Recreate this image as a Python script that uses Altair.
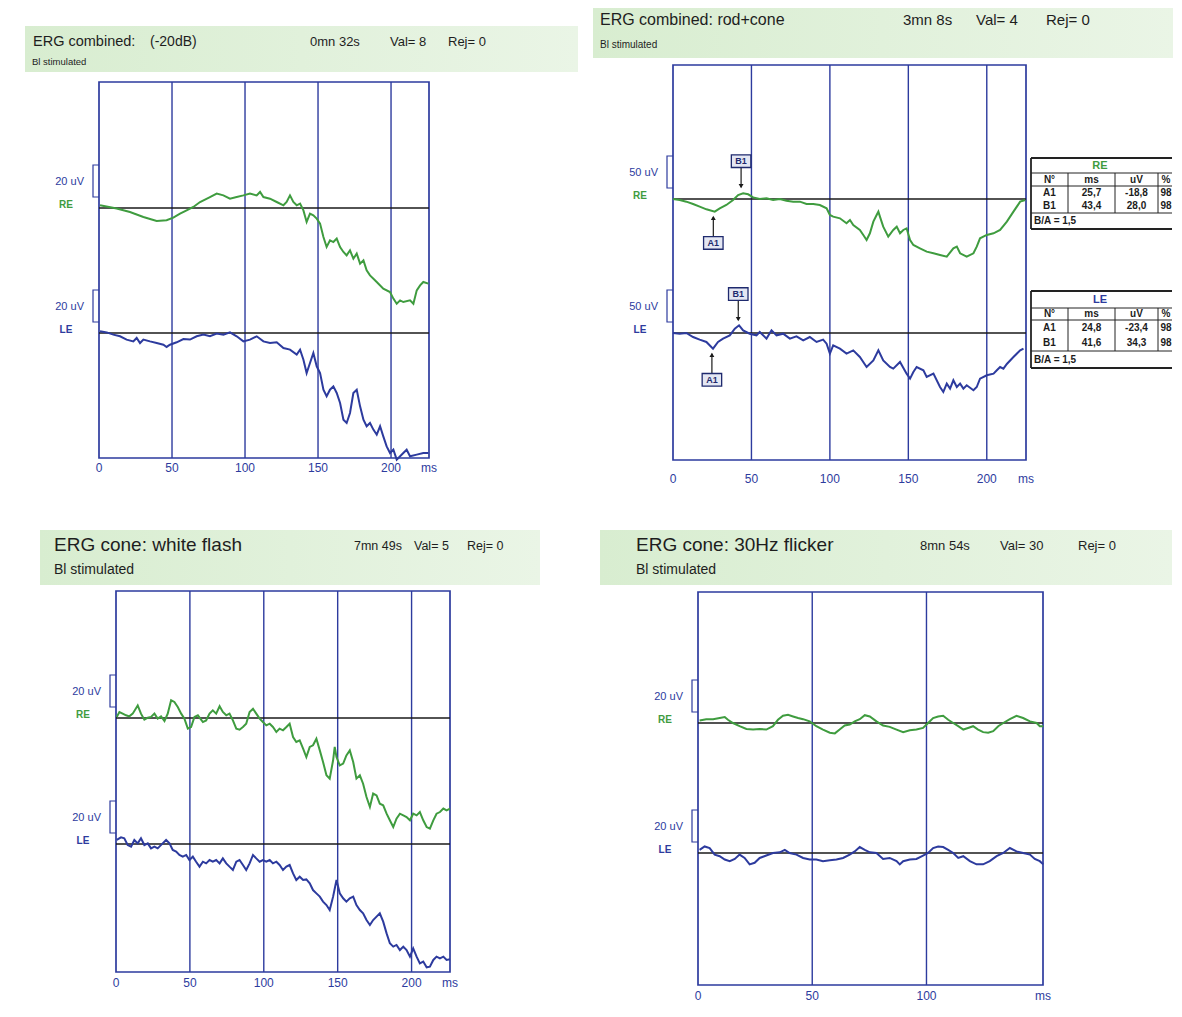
import altair as alt
import pandas as pd

# ---------------- data (ms, uV) ----------------
p1_header = ["ERG combined:", "(-20dB)", "0mn 32s", "Val= 8", "Rej= 0", "Bl stimulated"]
p1_re = [(0.7,1.8),(12.1,-0.4),(21.2,-2.7),(30.4,-6.0),(39.5,-8.7),(46.3,-8.2),(50.9,-6.4),(55.5,-3.8),(60.0,-1.6),(64.6,0.7),
         (69.2,4.0),(76.0,7.3),(80.6,9.6),(85.2,8.4),(89.7,6.2),(94.3,7.3),(98.9,8.4),(103.4,9.6),(108.0,8.4),(110.3,10.7),
         (112.6,7.3),(117.1,6.2),(121.7,4.0),(126.3,1.8),(128.5,4.0),(130.8,8.4),(133.1,4.0),(135.4,1.8),(137.7,2.9),(140.0,-1.6),
         (142.2,-9.3),(144.5,-3.8),(146.8,-4.9),(149.1,-7.1),(151.4,-10.4),(153.7,-19.3),(155.9,-26.0),(158.2,-21.6),(160.5,-22.7),
         (162.8,-20.4),(165.1,-26.0),(167.4,-29.3),(169.6,-31.6),(171.9,-28.2),(174.2,-33.8),(176.5,-30.4),(178.8,-37.1),(181.1,-34.9),
         (183.3,-41.6),(185.6,-44.9),(190.2,-49.3),(194.7,-53.8),(199.3,-56.0),(201.6,-60.4),(203.9,-63.8),(206.2,-61.6),(208.4,-62.7),
         (213.0,-61.6),(215.3,-63.8),(217.6,-54.9),(219.9,-51.6),(222.1,-49.3),(225.6,-50.4)]
p1_le = [(0.7,1.1),(5.3,0.4),(9.8,-1.1),(14.4,-2.2),(18.9,-4.4),(23.5,-5.6),(25.8,-3.3),(28.1,-6.7),(30.4,-4.4),(34.9,-5.6),
         (39.5,-6.7),(44.1,-7.8),(46.3,-9.3),(48.6,-7.8),(53.2,-6.2),(57.8,-4.0),(62.3,-4.4),(66.9,-2.2),(71.5,-1.1),(76.0,-2.2),
         (80.6,-0.4),(85.2,-1.1),(89.7,0.4),(94.3,-2.2),(98.9,-5.6),(103.4,-4.4),(108.0,-2.2),(112.6,-5.6),(117.1,-6.7),(121.7,-6.2),
         (126.3,-10.0),(130.8,-11.1),(135.4,-14.4),(137.7,-11.1),(140.0,-17.8),(142.2,-26.7),(144.5,-20.0),(146.8,-13.3),(149.1,-22.2),
         (151.4,-26.7),(153.7,-37.8),(155.9,-42.2),(158.2,-37.8),(160.5,-35.6),(162.8,-40.0),(165.1,-46.7),(167.4,-57.8),(169.6,-60.0),
         (171.9,-53.3),(174.2,-40.0),(176.5,-37.8),(178.8,-48.9),(181.1,-57.8),(183.3,-62.2),(185.6,-60.0),(187.9,-64.4),(190.2,-67.8),
         (192.5,-62.2),(194.7,-68.9),(197.0,-75.6),(199.3,-80.0),(201.6,-77.8),(203.9,-84.4),(206.2,-82.2),(208.4,-80.0),(210.7,-77.8),
         (213.0,-82.2),(217.6,-81.1),(222.1,-80.0),(225.6,-80.0)]

p2_header = ["ERG combined: rod+cone", "3mn 8s", "Val= 4", "Rej= 0", "Bl stimulated"]
p2_re = [(0,0),(4.3,-1.6),(8.5,-4.2),(12.8,-7.9),(17.0,-12.1),(21.3,-16.3),(26.6,-20.0),(29.8,-14.7),(34.0,-9.5),(38.3,-1.6),
         (41.5,6.3),(44.7,8.9),(47.9,7.4),(51.1,2.6),(55.3,0),(59.6,1.1),(63.8,-1.6),(68.1,0),(72.3,-2.6),(76.6,-4.2),(80.9,-4.2),
         (85.1,-7.9),(89.4,-7.9),(93.6,-9.5),(97.9,-14.7),(100.0,-25.3),(102.1,-27.9),(106.4,-30.5),(110.6,-38.4),(112.8,-33.2),
         (114.9,-41.1),(119.1,-48.9),(121.3,-56.8),(123.4,-64.7),(125.5,-54.2),(127.7,-35.8),(129.8,-25.3),(130.9,-20.0),(131.9,-27.9),
         (134.0,-43.7),(137.2,-59.5),(140.4,-48.9),(142.6,-43.7),(144.7,-54.2),(146.8,-48.9),(148.9,-46.3),(151.1,-64.7),(153.2,-72.6),
         (157.4,-77.9),(161.7,-83.2),(166.0,-85.8),(170.2,-88.4),(174.5,-91.1),(178.7,-77.9),(180.9,-75.3),(183.0,-85.8),(187.2,-91.1),
         (191.5,-85.8),(193.6,-75.3),(195.7,-62.1),(200.0,-56.8),(204.3,-54.2),(208.5,-48.9),(212.8,-35.8),(217.0,-20.0),(221.3,-4.2),
         (224.5,-1.6)]
p2_le = [(0,0),(4.3,-1.1),(8.5,0),(12.8,-6.3),(17.0,-10.5),(21.3,-14.2),(25.5,-24.7),(28.7,-14.2),(31.9,-8.9),(36.2,-3.7),
         (39.4,6.8),(42.1,12.1),(44.7,4.2),(48.9,-1.1),(53.2,-3.7),(55.3,1.6),(59.6,-8.9),(62.8,4.2),(66.0,-3.7),(70.2,-1.1),
         (74.5,-8.9),(78.7,-5.3),(83.0,-11.6),(87.2,-6.3),(91.5,-14.2),(95.7,-10.5),(97.9,-16.8),(100.0,-32.6),(102.1,-19.5),
         (106.4,-24.7),(110.6,-32.6),(114.9,-27.4),(119.1,-37.9),(123.4,-53.7),(127.7,-43.2),(130.9,-27.4),(134.0,-43.2),(138.3,-53.7),
         (140.4,-56.3),(144.7,-45.8),(148.9,-64.2),(151.1,-72.1),(153.2,-61.6),(155.3,-53.7),(159.6,-58.9),(161.7,-69.5),(166.0,-64.2),
         (170.2,-85.3),(172.3,-93.2),(174.5,-80.0),(176.6,-87.9),(178.7,-74.7),(180.9,-85.3),(183.0,-80.0),(185.1,-87.9),(187.2,-82.6),
         (191.5,-90.5),(193.6,-85.3),(195.7,-72.1),(200.0,-66.8),(204.3,-64.2),(206.4,-58.9),(208.5,-53.7),(210.6,-56.3),(212.8,-48.9),
         (217.0,-37.9),(221.3,-27.4),(223.4,-24.7)]
# measurement tables of panel 2 (A1, B1)
p2_re_ms = [25.7, 43.4]
p2_re_uv = [-18.8, 28.0]
p2_re_pct = [98, 98]
p2_re_ratio = "1,5"
p2_le_ms = [24.8, 41.6]
p2_le_uv = [-23.4, 34.3]
p2_le_pct = [98, 98]
p2_le_ratio = "1,5"
table_cols = ["N°", "ms", "uV", "%"]
peak_names = ["A1", "B1"]

p3_header = ["ERG cone: white flash", "7mn 49s", "Val= 5", "Rej= 0", "Bl stimulated"]
p3_re = [(0.5,0.7),(2.3,4.0),(4.5,2.9),(6.8,1.8),(9.0,1.1),(11.3,2.9),(14.7,8.4),(16.9,2.9),(19.2,-1.1),(21.5,0.2),(23.7,0.7),
         (26.0,2.9),(28.2,-0.4),(30.5,1.1),(32.8,-2.0),(35.0,2.9),(37.3,11.8),(39.5,10.7),(41.8,7.3),(44.1,2.9),(46.3,-0.4),(48.6,-7.1),
         (50.8,-6.0),(53.1,0.7),(55.4,1.8),(58.8,-2.7),(61.0,-1.6),(63.3,2.9),(65.5,5.1),(67.8,2.9),(70.1,7.8),(72.3,4.0),(74.6,1.8),
         (76.8,2.9),(79.1,-1.6),(81.4,-7.1),(83.6,-7.8),(85.9,-6.0),(88.1,-3.8),(90.4,4.0),(92.7,6.2),(94.9,2.9),(97.2,-0.4),(99.4,-2.7),
         (101.7,-4.9),(104.0,-3.8),(106.2,-6.0),(108.5,-9.3),(110.7,-7.1),(113.0,-8.2),(115.3,-6.0),(117.5,-3.8),(119.8,-12.7),(122.0,-16.0),
         (124.3,-14.9),(126.6,-20.4),(128.8,-26.0),(131.1,-19.3),(133.3,-18.2),(135.6,-13.8),(137.9,-21.6),(140.1,-29.3),(142.4,-38.2),
         (144.6,-40.4),(146.9,-28.2),(148.0,-19.3),(149.2,-26.0),(151.4,-31.6),(153.7,-30.4),(155.9,-24.9),(158.2,-21.6),(160.5,-29.3),
         (162.7,-40.4),(165.0,-38.2),(167.2,-43.8),(169.5,-52.7),(171.8,-59.3),(174.0,-50.4),(176.3,-51.6),(178.5,-57.1),(180.8,-58.2),
         (183.1,-63.8),(185.3,-68.2),(187.6,-72.7),(189.8,-67.1),(192.1,-63.8),(194.4,-64.9),(196.6,-66.0),(198.9,-68.2),(201.1,-63.8),
         (203.4,-64.9),(205.6,-62.7),(207.9,-68.2),(210.2,-72.7),(212.4,-73.8),(214.7,-68.2),(216.9,-63.8),(219.2,-62.7),(221.5,-60.4),
         (223.7,-61.6),(226.0,-60.4)]
p3_le = [(0.5,2.7),(3.4,4.4),(5.6,3.8),(7.9,-0.7),(10.2,-1.8),(12.4,2.7),(14.7,0.4),(16.9,3.8),(19.2,-0.7),(21.5,0.4),(23.7,-2.9),
         (26.0,-1.8),(28.2,-2.9),(31.6,0.4),(33.9,2.7),(36.2,0.4),(38.4,-4.0),(40.7,-5.1),(42.9,-7.3),(45.2,-8.4),(47.5,-7.3),(49.7,-10.7),
         (52.0,-8.4),(54.2,-11.8),(56.5,-15.1),(58.8,-11.8),(61.0,-12.9),(63.3,-10.7),(65.5,-11.8),(67.8,-10.7),(70.1,-12.9),(72.3,-9.6),
         (74.6,-12.9),(76.8,-15.1),(79.1,-17.3),(81.4,-11.8),(83.6,-10.7),(85.9,-14.0),(88.1,-17.3),(90.4,-12.9),(92.7,-7.3),(94.9,-9.6),
         (97.2,-11.8),(99.4,-10.7),(101.7,-11.8),(104.0,-10.7),(106.2,-12.9),(108.5,-11.8),(110.7,-14.0),(113.0,-17.3),(115.3,-15.1),
         (117.5,-14.0),(119.8,-19.6),(122.0,-24.0),(124.3,-21.8),(126.6,-24.0),(128.8,-23.6),(131.1,-26.2),(133.3,-30.7),(135.6,-32.9),
         (137.9,-35.1),(140.1,-38.4),(142.4,-40.7),(144.6,-44.0),(146.9,-35.1),(149.2,-24.0),(151.4,-32.9),(153.7,-36.2),(155.9,-38.4),
         (158.2,-36.2),(160.5,-35.1),(162.7,-40.7),(165.0,-44.0),(167.2,-46.2),(169.5,-50.7),(171.8,-54.0),(174.0,-50.7),(176.3,-48.4),
         (178.5,-46.2),(180.8,-51.8),(183.1,-59.6),(185.3,-66.2),(187.6,-68.4),(189.8,-67.3),(192.1,-70.7),(194.4,-68.4),(196.6,-70.7),
         (198.9,-75.1),(201.1,-69.6),(203.4,-75.1),(205.6,-79.6),(207.9,-78.4),(210.2,-82.2),(212.4,-81.8),(214.7,-77.3),(216.9,-75.1),
         (219.2,-76.2),(221.5,-75.1),(223.7,-77.3),(226.0,-76.9)]

p4_header = ["ERG cone: 30Hz flicker", "8mn 54s", "Val= 30", "Rej= 0", "Bl stimulated"]
p4_re = [(0.7,1.6),(3.6,2.4),(6.6,2.4),(9.5,3.1),(11.7,3.7),(13.1,2.0),(15.3,0),(18.2,-2.0),(21.2,-3.7),(24.1,-4.1),(27.0,-3.7),
         (29.9,-4.1),(32.8,-2.0),(35.0,2.0),(37.2,4.5),(39.4,5.1),(41.6,4.1),(43.8,3.1),(46.0,2.4),(48.9,1.0),(51.8,-2.0),(54.7,-4.1),
         (57.7,-6.1),(59.9,-6.5),(62.0,-4.1),(64.2,-1.6),(66.4,-1.0),(68.6,1.0),(70.8,2.4),(73.0,4.9),(75.2,4.1),(78.1,1.0),(81.0,-1.6),
         (83.9,-2.4),(86.9,-4.1),(89.8,-5.7),(92.7,-4.5),(95.6,-4.1),(98.5,-3.1),(100.7,0),(102.9,3.1),(105.1,4.1),(107.3,4.5),(109.5,2.0),
         (111.7,0),(113.9,-2.0),(116.1,-4.1),(118.2,-3.1),(120.4,-2.0),(122.6,-4.1),(124.8,-5.7),(127.0,-6.1),(129.2,-5.1),(131.4,-2.0),
         (133.6,0),(136.5,2.4),(139.4,4.5),(142.3,3.1),(145.3,1.0),(148.2,0),(149.6,-2.0),(151.1,-2.0)]
p4_le = [(0.7,2.0),(2.9,4.1),(5.1,3.1),(7.3,-1.0),(9.5,-2.0),(11.7,-4.1),(13.9,-5.1),(16.1,-3.7),(18.2,-1.0),(20.4,-3.1),(22.6,-7.1),
         (24.8,-6.1),(27.0,-3.1),(29.9,-1.6),(32.8,0),(35.8,0.4),(38.0,2.0),(40.1,0),(43.1,-1.0),(46.0,-3.1),(48.9,-4.1),(51.8,-4.1),
         (54.7,-5.1),(57.7,-4.5),(60.6,-4.1),(63.5,-3.1),(66.4,-1.0),(68.6,1.0),(70.8,3.7),(73.0,2.0),(75.2,0.4),(78.1,0),(81.0,-3.7),
         (83.9,-3.1),(86.9,-5.1),(88.3,-7.1),(89.8,-5.1),(92.7,-4.1),(95.6,-3.7),(98.5,-1.6),(100.7,0),(102.9,3.1),(105.1,4.1),(107.3,3.7),
         (109.5,2.0),(111.7,0),(113.9,-3.1),(116.1,-2.0),(119.0,-5.1),(121.9,-7.1),(124.8,-7.1),(127.7,-5.1),(130.7,-2.0),(133.6,0),
         (136.5,3.1),(139.4,1.0),(142.3,0),(145.3,-1.0),(147.4,-3.7),(149.6,-5.1),(151.1,-7.1)]

ticks_200 = [0, 50, 100, 150, 200]
ticks_100 = [0, 50, 100]

# ---------------- styling / layout ----------------
FONT = "Liberation Sans"
BLUE = "#2d3b9e"
GREEN = "#3f9c3f"
BLACK = "#1a1a1a"
TXT = "#1e1e1e"
W = 583
GRAD = alt.LinearGradient(gradient="linear",
                          stops=[alt.GradientStop(color="#d8edd0", offset=0),
                                 alt.GradientStop(color="#eaf5e6", offset=1)],
                          x1=0, x2=1, y1=0, y2=0)
BOX = "M-1,-0.65L1,-0.65L1,0.65L-1,0.65Z"


def build(cfg, header, re_tr, le_tr, extra=None):
    qx, qy, H = cfg["qx"], cfg["qy"], cfg["H"]
    L, R, T, B = cfg["L"], cfg["R"], cfg["T"], cfg["B"]
    xmax, k, bre, ble = cfg["xmax"], cfg["k"], cfg["re"], cfg["le"]
    pxms = (R - L) / xmax
    fx = lambda p: (p - L) / pxms
    fy = lambda p: (bre - p) / k
    le_off = fy(ble)
    xs = alt.Scale(domain=[fx(qx), fx(qx + W)], nice=False, zero=False)
    ys = alt.Scale(domain=[fy(qy + H), fy(qy)], nice=False, zero=False)
    X = lambda f: alt.X(f, type="quantitative", scale=xs, axis=None)
    Y = lambda f: alt.Y(f, type="quantitative", scale=ys, axis=None)
    layers = []
    # header band
    bx0, bx1, by0, by1 = cfg["band"]
    band = pd.DataFrame({"x": [fx(bx0)], "x2": [fx(bx1)], "y": [fy(by0)], "y2": [fy(by1)]})
    layers.append(alt.Chart(band).mark_rect(fill=GRAD).encode(x=X("x"), x2="x2", y=Y("y"), y2="y2"))
    hd = pd.DataFrame({"x": [fx(p[0]) for p in cfg["hpos"]], "y": [fy(p[1]) for p in cfg["hpos"]],
                       "t": header, "fs": [p[2] for p in cfg["hpos"]]})
    layers.append(alt.Chart(hd).mark_text(align="left", baseline="middle", font=FONT, color=TXT).encode(
        x=X("x"), y=Y("y"), text="t:N", size=alt.Size("fs:Q", scale=None)))
    # frame
    fr = pd.DataFrame({"x": [0], "x2": [xmax], "y": [fy(B)], "y2": [fy(T)]})
    layers.append(alt.Chart(fr).mark_rect(fill="white", stroke=BLUE, strokeWidth=1.7).encode(
        x=X("x"), x2="x2", y=Y("y"), y2="y2"))
    # vertical grid
    gd = pd.DataFrame({"x": cfg["grid"], "y": fy(B), "y2": fy(T)})
    layers.append(alt.Chart(gd).mark_rule(color=BLUE, strokeWidth=1.4).encode(x=X("x"), y=Y("y"), y2="y2"))
    # baselines
    bl = pd.DataFrame({"x": [0, 0], "x2": [xmax, xmax], "y": [0, le_off]})
    layers.append(alt.Chart(bl).mark_rule(color=BLACK, strokeWidth=1.4).encode(x=X("x"), x2="x2", y=Y("y")))
    # traces
    dre = pd.DataFrame(re_tr, columns=["ms", "uv"])
    dle = pd.DataFrame(le_tr, columns=["ms", "uv"])
    dle["uv"] = dle["uv"] + le_off
    layers.append(alt.Chart(dre).mark_line(color=GREEN, strokeWidth=2.0).encode(x=X("ms"), y=Y("uv")))
    layers.append(alt.Chart(dle).mark_line(color=BLUE, strokeWidth=2.0).encode(x=X("ms"), y=Y("uv")))
    # scale brackets
    rows = []
    for g, base in enumerate([bre, ble]):
        for i, (px, py) in enumerate([(L, base - 43), (L - 6, base - 43), (L - 6, base - 11), (L, base - 11)]):
            rows.append({"g": g, "i": i, "x": fx(px), "y": fy(py)})
    layers.append(alt.Chart(pd.DataFrame(rows)).mark_line(color=BLUE, strokeWidth=1.2).encode(
        x=X("x"), y=Y("y"), detail="g:N", order="i:Q"))
    sl = pd.DataFrame({"x": [fx(L - 15)] * 2, "y": [fy(bre - 26), fy(ble - 26)], "t": [cfg["scale"]] * 2})
    layers.append(alt.Chart(sl).mark_text(align="right", baseline="middle", fontSize=11, font=FONT, color=BLUE).encode(
        x=X("x"), y=Y("y"), text="t:N"))
    el = pd.DataFrame({"x": [fx(L - 33)] * 2, "y": [fy(bre - 3), fy(ble - 3)], "t": ["RE", "LE"], "c": [GREEN, BLUE]})
    layers.append(alt.Chart(el).mark_text(align="center", baseline="middle", fontSize=10, fontWeight="bold", font=FONT).encode(
        x=X("x"), y=Y("y"), text="t:N", color=alt.Color("c:N", scale=None)))
    # tick labels
    tk = pd.DataFrame({"x": cfg["ticks"] + [xmax], "t": [str(t) for t in cfg["ticks"]] + ["ms"], "y": fy(cfg["tick_y"])})
    layers.append(alt.Chart(tk).mark_text(align="center", baseline="middle", fontSize=12, font=FONT, color=BLUE).encode(
        x=X("x"), y=Y("y"), text="t:N"))
    if extra is not None:
        layers += extra(fx, fy, X, Y, le_off)
    return alt.layer(*layers).properties(width=W, height=H)


def p2_extra(fx, fy, X, Y, le_off):
    layers = []
    rows = []
    for ms_l, uv_l, off in [(p2_re_ms, p2_re_uv, 0), (p2_le_ms, p2_le_uv, le_off)]:
        rows.append({"kind": peak_names[0], "ms": ms_l[0], "y": uv_l[0] + off})
        rows.append({"kind": peak_names[1], "ms": ms_l[1], "y": uv_l[0] + uv_l[1] + off})
    mk = pd.DataFrame(rows)
    for kind, sgn in [("B1", -1), ("A1", 1)]:
        base = alt.Chart(mk).transform_filter(alt.datum.kind == kind)
        layers.append(base.mark_rule(color=BLACK, strokeWidth=1.2, yOffset=sgn * 26, y2Offset=sgn * 6).encode(
            x=X("ms"), y=Y("y"), y2="y"))
        layers.append(base.mark_point(shape="triangle-down" if sgn < 0 else "triangle-up", filled=True, size=24,
                                      color=BLACK, opacity=1, yOffset=sgn * 7).encode(x=X("ms"), y=Y("y")))
        layers.append(base.mark_point(shape=BOX, size=380, filled=True, fill="#e4e7f3", stroke="#1f2a6e",
                                      strokeWidth=1.3, opacity=1, yOffset=sgn * 32).encode(x=X("ms"), y=Y("y")))
        layers.append(base.mark_text(fontSize=9, fontWeight="bold", color="#1f2a6e", font=FONT, baseline="middle",
                                     yOffset=sgn * 32).encode(x=X("ms"), y=Y("y"), text="kind:N"))
    # measurement tables
    cols = [1031, 1068, 1115, 1158, 1172]
    centers = [1049.5, 1091.5, 1136.5, 1166]
    for eye, col, ry, ms_l, uv_l, pct, ratio in [
            ("RE", GREEN, [158, 173, 186, 213, 229], p2_re_ms, p2_re_uv, p2_re_pct, p2_re_ratio),
            ("LE", BLUE, [291, 308, 320, 351, 368], p2_le_ms, p2_le_uv, p2_le_pct, p2_le_ratio)]:
        bg = pd.DataFrame({"x": [fx(cols[0])], "x2": [fx(cols[-1])], "y": [fy(ry[0])], "y2": [fy(ry[-1])]})
        layers.append(alt.Chart(bg).mark_rect(fill="white").encode(x=X("x"), x2="x2", y=Y("y"), y2="y2"))
        hl = pd.DataFrame({"x": fx(cols[0]), "x2": fx(cols[-1]), "y": [fy(v) for v in ry],
                           "w": [1.8, 1.0, 1.0, 1.0, 1.8]})
        layers.append(alt.Chart(hl).mark_rule(color="#222222").encode(
            x=X("x"), x2="x2", y=Y("y"), strokeWidth=alt.StrokeWidth("w:Q", scale=None)))
        vl = pd.DataFrame({"x": [fx(c) for c in cols[:4]],
                           "y": [fy(ry[0])] + [fy(ry[1])] * 3,
                           "y2": [fy(ry[-1])] + [fy(ry[3])] * 3,
                           "w": [1.8, 1.0, 1.0, 1.0]})
        layers.append(alt.Chart(vl).mark_rule(color="#222222").encode(
            x=X("x"), y=Y("y"), y2="y2", strokeWidth=alt.StrokeWidth("w:Q", scale=None)))
        tt = pd.DataFrame({"x": [fx(1100)], "y": [fy((ry[0] + ry[1]) / 2)], "t": [eye]})
        layers.append(alt.Chart(tt).mark_text(fontSize=11, fontWeight="bold", color=col, font=FONT, baseline="middle").encode(
            x=X("x"), y=Y("y"), text="t:N"))
        fmt = lambda v: f"{v:.1f}".replace(".", ",")
        rows_t = []
        hy = fy((ry[1] + ry[2]) / 2)
        for c, t in zip(centers, table_cols):
            rows_t.append({"x": fx(c), "y": hy, "t": t})
        d1 = ry[2] + (ry[3] - ry[2]) * 0.27
        d2 = ry[2] + (ry[3] - ry[2]) * 0.75
        for j, yy in enumerate([d1, d2]):
            vals = [peak_names[j], fmt(ms_l[j]), fmt(uv_l[j]), str(pct[j])]
            for c, t in zip(centers, vals):
                rows_t.append({"x": fx(c), "y": fy(yy), "t": t})
        layers.append(alt.Chart(pd.DataFrame(rows_t)).mark_text(fontSize=10, fontWeight="bold", color="#1c1c1c",
                                                                font=FONT, baseline="middle").encode(
            x=X("x"), y=Y("y"), text="t:N"))
        ba = pd.DataFrame({"x": [fx(1034)], "y": [fy((ry[3] + ry[4]) / 2)], "t": ["B/A = " + ratio]})
        layers.append(alt.Chart(ba).mark_text(fontSize=10, fontWeight="bold", color="#1c1c1c", font=FONT,
                                              align="left", baseline="middle").encode(x=X("x"), y=Y("y"), text="t:N"))
    return layers


cfg1 = dict(qx=8, qy=8, H=500, L=99, R=429, T=82, B=458, xmax=226, re=208, le=333, k=1.5,
            grid=[50, 100, 150, 200], ticks=ticks_200, tick_y=468, scale="20 uV", band=(25, 578, 26, 72),
            hpos=[(33, 42, 14.5), (150, 42, 14), (310, 42, 13), (390, 42, 13), (448, 42, 13), (32, 62, 9.5)])
cfg2 = dict(qx=591, qy=8, H=500, L=673, R=1026, T=65, B=460, xmax=225, re=199, le=333, k=0.633,
            grid=[50, 100, 150, 200], ticks=ticks_200, tick_y=479, scale="50 uV", band=(593, 1173, 8, 58),
            hpos=[(600, 20, 16), (903, 20, 15), (976, 20, 15), (1046, 20, 15), (600, 45, 10)])
cfg3 = dict(qx=8, qy=508, H=492, L=116, R=450, T=591, B=972, xmax=226, re=718, le=844, k=1.5,
            grid=[50, 100, 150, 200], ticks=ticks_200, tick_y=983, scale="20 uV", band=(40, 540, 530, 585),
            hpos=[(54, 545, 19), (354, 546, 12.5), (414, 546, 12.5), (467, 546, 12.5), (54, 570, 14)])
cfg4 = dict(qx=591, qy=508, H=492, L=698, R=1043, T=592, B=985, xmax=151, re=723, le=853, k=1.6,
            grid=[50, 100], ticks=ticks_100, tick_y=996, scale="20 uV", band=(600, 1172, 530, 585),
            hpos=[(636, 545, 19), (920, 546, 13), (1000, 546, 13), (1078, 546, 13), (636, 570, 14)])

c1 = build(cfg1, p1_header, p1_re, p1_le)
c2 = build(cfg2, p2_header, p2_re, p2_le, p2_extra)
c3 = build(cfg3, p3_header, p3_re, p3_le)
c4 = build(cfg4, p4_header, p4_re, p4_le)

chart = alt.vconcat(
    alt.hconcat(c1, c2, spacing=0, bounds="flush"),
    alt.hconcat(c3, c4, spacing=0, bounds="flush"),
    spacing=0,
).properties(padding=0, background="white").configure_view(stroke=None)

chart.save("out.html", embed_options={"renderer": "svg", "actions": False})
